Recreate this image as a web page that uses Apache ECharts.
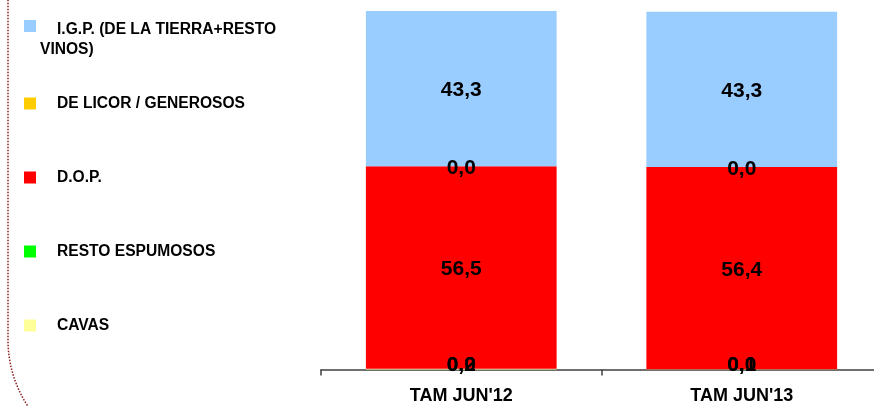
<!DOCTYPE html>
<html>
<head>
<meta charset="utf-8">
<script src="https://cdn.jsdelivr.net/npm/echarts@6/dist/echarts.min.js"></script>
<style>
  html, body { margin: 0; padding: 0; background: #ffffff; }
  #chart { width: 874px; height: 406px; }
</style>
</head>
<body>
<div id="chart"></div>
<script>
// Market share (%) by wine type, moving annual total
const categories = ["TAM JUN'12", "TAM JUN'13"];
const cavas = [0.2, 0.1];
const restoEspumosos = [0.0, 0.0];
const dop = [56.5, 56.4];
const licor = [0.0, 0.0];
const igp = [43.3, 43.3];

const seriesNames = ['CAVAS', 'RESTO ESPUMOSOS', 'D.O.P.', 'DE LICOR / GENEROSOS', 'I.G.P. (DE LA TIERRA+RESTO'];
const seriesValues = [cavas, restoEspumosos, dop, licor, igp];
const seriesColors = ['#FFFF99', '#00FF00', '#FF0000', '#FFCC00', '#99CCFF'];
const igpSecondLine = 'VINOS)';

const FONT = '"Liberation Sans", Arial, sans-serif';
const fmt = v => v.toFixed(1).replace('.', ',');

const chart = echarts.init(document.getElementById('chart'), null, { renderer: 'canvas' });

const series = seriesNames.map((name, i) => ({
  name: name,
  type: 'bar',
  stack: 'total',
  barWidth: '68%',
  data: seriesValues[i],
  itemStyle: { color: seriesColors[i] },
  label: {
    show: true,
    position: 'inside',
    offset: i < 2 ? [0, -4] : [0, 2],
    formatter: p => fmt(p.value),
    color: '#000000',
    fontFamily: FONT,
    fontWeight: 'bold',
    fontSize: 21
  },
  emphasis: { disabled: true }
}));

chart.setOption({
  animation: false,
  backgroundColor: '#ffffff',
  grid: {
    left: 321, width: 561, top: 11, bottom: 36.5,
    containLabel: false,
    outerBoundsMode: 'none'
  },
  xAxis: {
    type: 'category',
    data: categories,
    axisLine: { show: true, lineStyle: { color: '#404040', width: 1.5 } },
    axisTick: { show: true, length: 6, lineStyle: { color: '#404040', width: 1.5 } },
    axisLabel: {
      color: '#000000',
      fontFamily: FONT,
      fontWeight: 'bold',
      fontSize: 18,
      margin: 18
    }
  },
  yAxis: {
    type: 'value',
    min: 0,
    max: 100,
    show: false
  },
  legend: {
    orient: 'vertical',
    left: 24,
    top: 14.5,
    padding: 0,
    itemWidth: 12,
    itemHeight: 12,
    itemGap: 58,
    selectedMode: false,
    icon: 'rect',
    data: seriesNames.slice().reverse(),
    // the first entry wraps: a small spacer line pushes its first line down
    formatter: name => (name === seriesNames[4] ? '{s| }\n' + name : name),
    textStyle: {
      color: '#000000',
      fontFamily: FONT,
      fontWeight: 'bold',
      fontSize: 15.6,
      lineHeight: 16,
      padding: [0, 0, 0, 16],
      rich: {
        s: { fontSize: 6, lineHeight: 7 }
      }
    }
  },
  graphic: [
    {
      type: 'text',
      left: 40,
      top: 42,
      style: {
        text: igpSecondLine,
        fill: '#000000',
        font: 'bold 15.6px ' + FONT
      }
    },
    {
      type: 'rect',
      silent: true,
      shape: { x: 8, y: -300, width: 2000, height: 760, r: 120 },
      style: {
        fill: 'none',
        stroke: '#8B1E1E',
        lineWidth: 1.5,
        lineDash: [1.5, 1.5]
      }
    }
  ],
  series: series
});
</script>
</body>
</html>
